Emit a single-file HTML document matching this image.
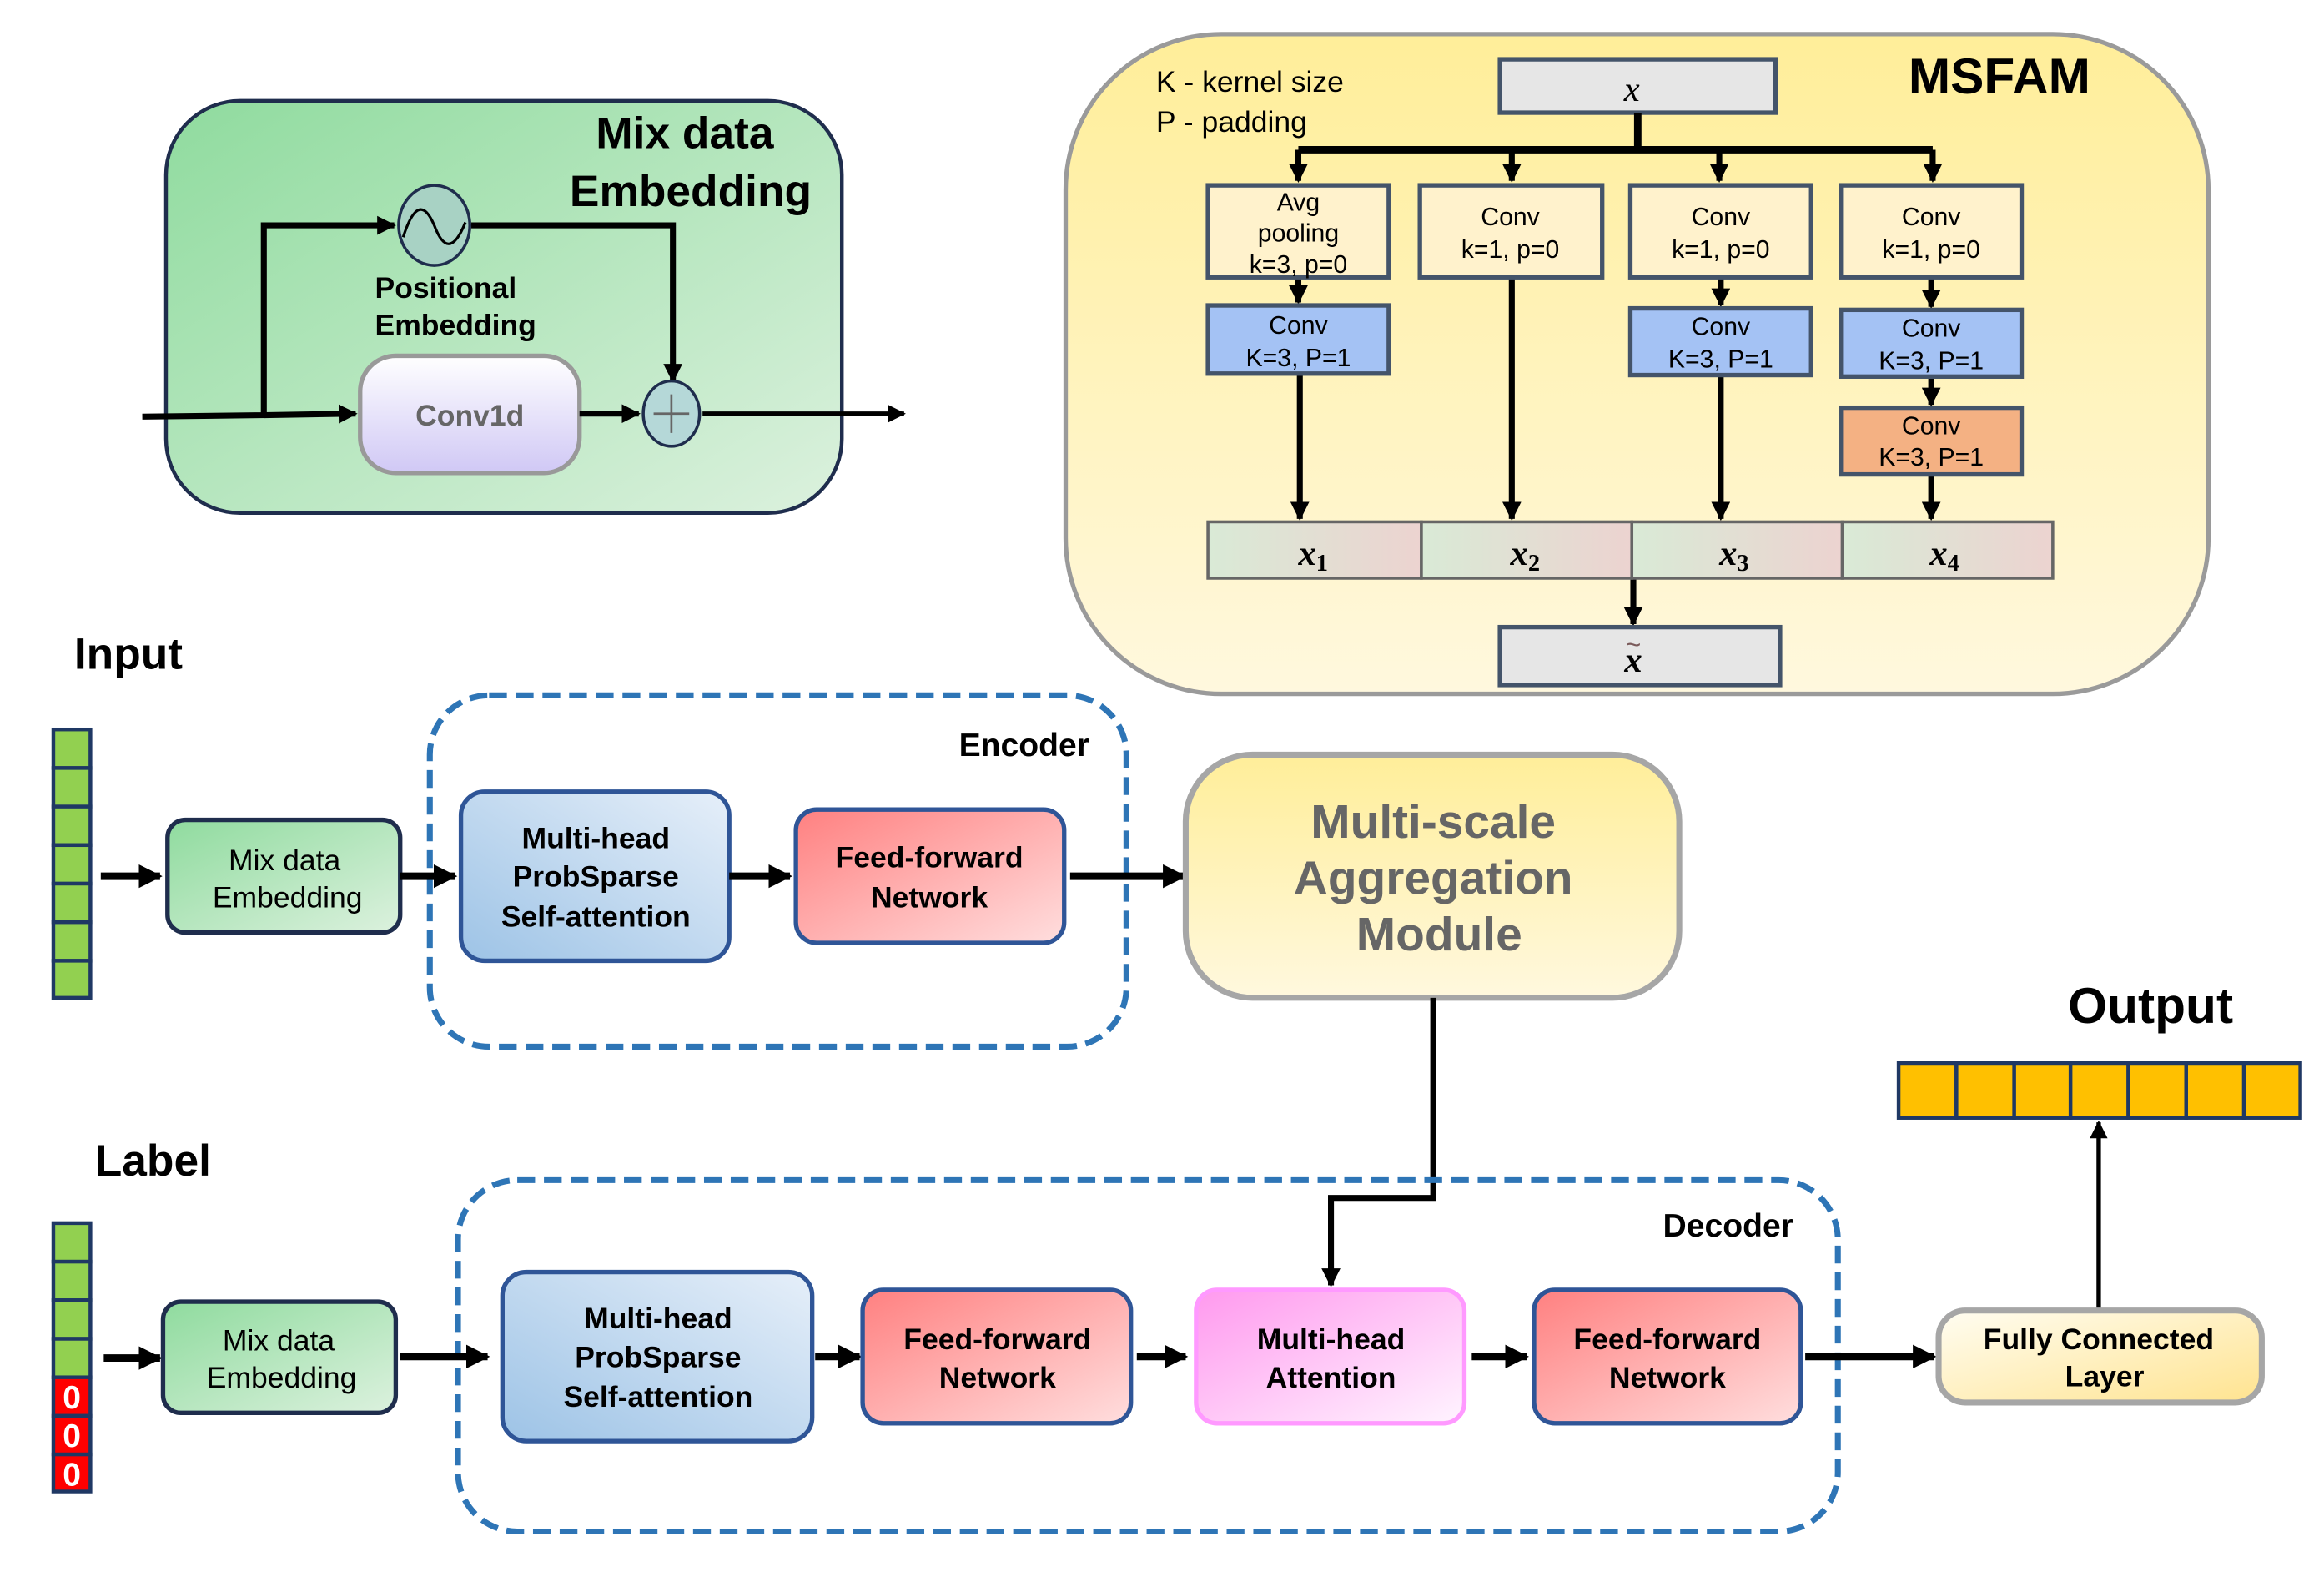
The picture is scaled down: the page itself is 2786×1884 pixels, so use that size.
<!DOCTYPE html>
<html><head><meta charset="utf-8"><style>
html,body{margin:0;padding:0;background:#fff}
svg{display:block}
text{font-family:"Liberation Sans",Arial,sans-serif}
.b{font-weight:bold}
.m{font-family:"Liberation Serif",serif;font-style:italic;font-size:24px}
</style></head><body>
<svg width="2786" height="1884" viewBox="0 0 1568 1060.3" preserveAspectRatio="none" xmlns="http://www.w3.org/2000/svg">
<defs>
<marker id="a" viewBox="0 0 10 10" refX="9" refY="5" markerWidth="3.2" markerHeight="3.2" orient="auto"><path d="M0,0L10,5L0,10z" fill="#000"/></marker>
<marker id="s" viewBox="0 0 10 10" refX="9" refY="5" markerWidth="4" markerHeight="4" orient="auto"><path d="M0,0L10,5L0,10z" fill="#000"/></marker>
<linearGradient id="gG" x1="0" y1="0" x2="1" y2="1"><stop offset="0" stop-color="#8fdb9e"/><stop offset="1" stop-color="#dcf1de"/></linearGradient>
<linearGradient id="gP" x1="0" y1="0" x2="0" y2="1"><stop offset="0" stop-color="#fff"/><stop offset="1" stop-color="#d0c8f5"/></linearGradient>
<linearGradient id="gY" x1="0" y1="0" x2="0" y2="1"><stop offset="0" stop-color="#ffee99"/><stop offset="1" stop-color="#fff8de"/></linearGradient>
<linearGradient id="gX" x1="0" y1="0" x2="1" y2="0"><stop offset="0" stop-color="#d9ead6"/><stop offset="1" stop-color="#ecd3d0"/></linearGradient>
<linearGradient id="gB" x1="0" y1="1" x2="1" y2="0"><stop offset="0" stop-color="#9dc3e6"/><stop offset="1" stop-color="#e6eff9"/></linearGradient>
<linearGradient id="gR" x1="0" y1="0" x2="1" y2="1"><stop offset="0" stop-color="#ff8080"/><stop offset="1" stop-color="#ffdede"/></linearGradient>
<linearGradient id="gM" x1="0" y1="0" x2="1" y2="1"><stop offset="0" stop-color="#ff99ee"/><stop offset="1" stop-color="#fff4ff"/></linearGradient>
<linearGradient id="gF" x1="0" y1="0" x2="1" y2="1"><stop offset="0" stop-color="#fffdf2"/><stop offset="1" stop-color="#ffe38f"/></linearGradient>
</defs>

<!-- Mix data Embedding panel -->
<rect x="112" y="68" width="456" height="278" rx="50" fill="url(#gG)" stroke="#1f2d4d" stroke-width="2.5"/>
<text x="462" y="100" class="b" font-size="30" text-anchor="middle">Mix data</text>
<text x="466" y="139" class="b" font-size="30" text-anchor="middle">Embedding</text>
<path d="M96,281L178,280L178,152L266,152" fill="none" stroke="#000" stroke-width="4" marker-end="url(#a)"/>
<path d="M178,280L240,279" fill="none" stroke="#000" stroke-width="4" marker-end="url(#a)"/>
<ellipse cx="293" cy="152" rx="24" ry="27" fill="#a8d2c4" stroke="#1f2d4d" stroke-width="2"/>
<path d="M272,160 C280,135 287,138 293,152 C299,168 306,170 314,150" fill="none" stroke="#000" stroke-width="1.8"/>
<path d="M318,152L454,152L454,257" fill="none" stroke="#000" stroke-width="4" marker-end="url(#a)"/>
<text x="253" y="201" class="b" font-size="20">Positional</text>
<text x="253" y="226" class="b" font-size="20">Embedding</text>
<rect x="243" y="240" width="148" height="79" rx="24" fill="url(#gP)" stroke="#999" stroke-width="3"/>
<text x="317" y="287" class="b" font-size="20" fill="#666" text-anchor="middle">Conv1d</text>
<path d="M391,279L431,279" stroke="#000" stroke-width="4" marker-end="url(#a)"/>
<ellipse cx="453" cy="279" rx="19" ry="22" fill="#b5d8d8" stroke="#1f2d4d" stroke-width="2"/>
<path d="M441,279H465M453,266V292" stroke="#666" stroke-width="1.5"/>
<path d="M474,279L610,279" stroke="#000" stroke-width="3" marker-end="url(#s)"/>

<!-- MSFAM -->
<rect x="719" y="23" width="771" height="445" rx="105" fill="url(#gY)" stroke="#9a9a9a" stroke-width="3"/>
<text x="780" y="62" font-size="20">K - kernel size</text>
<text x="780" y="89" font-size="20">P - padding</text>
<text x="1349" y="63" class="b" font-size="34" text-anchor="middle">MSFAM</text>
<rect x="1012" y="40" width="186" height="36" fill="#e6e6e6" stroke="#44546a" stroke-width="3"/>
<text x="1101" y="68" class="m" text-anchor="middle">x</text>
<path d="M1105,76V101M876,101H1304" stroke="#000" stroke-width="5" fill="none"/>
<g stroke="#000" stroke-width="4" fill="none">
<path d="M876,101V122" marker-end="url(#a)"/><path d="M1020,101V122" marker-end="url(#a)"/>
<path d="M1160,101V122" marker-end="url(#a)"/><path d="M1304,101V122" marker-end="url(#a)"/>
<path d="M876,187V204" marker-end="url(#a)"/><path d="M1161,187V206" marker-end="url(#a)"/>
<path d="M1303,187V207" marker-end="url(#a)"/><path d="M1303,254V273" marker-end="url(#a)"/>
<path d="M877,252V350" marker-end="url(#a)"/><path d="M1020,187V350" marker-end="url(#a)"/>
<path d="M1161,253V350" marker-end="url(#a)"/><path d="M1303,320V350" marker-end="url(#a)"/>
<path d="M1102,390V421" marker-end="url(#a)"/>
</g>
<g stroke="#44546a" stroke-width="3" fill="#fff2cc">
<rect x="815" y="125" width="122" height="62"/><rect x="958" y="125" width="123" height="62"/>
<rect x="1100" y="125" width="122" height="62"/><rect x="1242" y="125" width="122" height="62"/>
<rect x="815" y="206" width="122" height="46" fill="#a4c2f4"/><rect x="1100" y="208" width="122" height="45" fill="#a4c2f4"/>
<rect x="1242" y="209" width="122" height="45" fill="#a4c2f4"/><rect x="1242" y="275" width="122" height="45" fill="#f4b183"/>
</g>
<g font-size="17" text-anchor="middle">
<text x="876" y="142">Avg</text><text x="876" y="163">pooling</text><text x="876" y="184">k=3, p=0</text>
<text x="1019" y="152">Conv</text><text x="1019" y="174">k=1, p=0</text>
<text x="1161" y="152">Conv</text><text x="1161" y="174">k=1, p=0</text>
<text x="1303" y="152">Conv</text><text x="1303" y="174">k=1, p=0</text>
<text x="876" y="225">Conv</text><text x="876" y="247">K=3, P=1</text>
<text x="1161" y="226">Conv</text><text x="1161" y="248">K=3, P=1</text>
<text x="1303" y="227">Conv</text><text x="1303" y="249">K=3, P=1</text>
<text x="1303" y="293">Conv</text><text x="1303" y="314">K=3, P=1</text>
</g>
<g stroke="#666" stroke-width="2" fill="url(#gX)">
<rect x="815" y="352" width="144" height="38"/><rect x="959" y="352" width="142" height="38"/>
<rect x="1101" y="352" width="142" height="38"/><rect x="1243" y="352" width="142" height="38"/>
</g>
<text x="876" y="381" class="m" font-weight="bold">x<tspan font-size="16" font-style="normal" dy="4">1</tspan></text>
<text x="1019" y="381" class="m" font-weight="bold">x<tspan font-size="16" font-style="normal" dy="4">2</tspan></text>
<text x="1160" y="381" class="m" font-weight="bold">x<tspan font-size="16" font-style="normal" dy="4">3</tspan></text>
<text x="1302" y="381" class="m" font-weight="bold">x<tspan font-size="16" font-style="normal" dy="4">4</tspan></text>
<rect x="1012" y="423" width="189" height="39" fill="#e6e6e6" stroke="#44546a" stroke-width="3"/>
<text x="1102" y="453" class="m" text-anchor="middle" font-weight="bold">x</text>
<text x="1102" y="441" font-size="18" text-anchor="middle" fill="#7a5a5a">~</text>

<!-- Input -->
<text x="50" y="451" class="b" font-size="30">Input</text>
<g stroke="#1f3864" stroke-width="2.5" fill="#92d050">
<rect x="36" y="492" width="25" height="26"/><rect x="36" y="518" width="25" height="26"/><rect x="36" y="544" width="25" height="26"/>
<rect x="36" y="570" width="25" height="26"/><rect x="36" y="596" width="25" height="26"/><rect x="36" y="622" width="25" height="26"/><rect x="36" y="648" width="25" height="25"/>
</g>
<path d="M68,591H108" stroke="#000" stroke-width="5" marker-end="url(#a)"/>
<rect x="113" y="553" width="157" height="76" rx="12" fill="url(#gG)" stroke="#1f2d4d" stroke-width="3"/>
<text x="192" y="587" font-size="20" text-anchor="middle">Mix data</text>
<text x="194" y="612" font-size="20" text-anchor="middle">Embedding</text>
<rect x="290" y="469" width="470" height="237" rx="40" fill="none" stroke="#2e75b6" stroke-width="4" stroke-dasharray="12 6"/>
<text x="735" y="510" class="b" font-size="22" text-anchor="end">Encoder</text>
<path d="M270,591H307" stroke="#000" stroke-width="5" marker-end="url(#a)"/>
<rect x="311" y="534" width="181" height="114" rx="16" fill="url(#gB)" stroke="#2f5597" stroke-width="3"/>
<g font-size="20" text-anchor="middle" font-weight="bold">
<text x="402" y="572">Multi-head</text><text x="402" y="598">ProbSparse</text><text x="402" y="625">Self-attention</text>
</g>
<path d="M492,591H533" stroke="#000" stroke-width="5" marker-end="url(#a)"/>
<rect x="537" y="546" width="181" height="90" rx="14" fill="url(#gR)" stroke="#2f5597" stroke-width="3"/>
<g font-size="20" text-anchor="middle" font-weight="bold">
<text x="627" y="585">Feed-forward</text><text x="627" y="612">Network</text>
</g>
<path d="M722,591H799" stroke="#000" stroke-width="5" marker-end="url(#a)"/>
<rect x="800" y="509" width="333" height="164" rx="45" fill="url(#gY)" stroke="#a6a6a6" stroke-width="4"/>
<g font-size="32" text-anchor="middle" font-weight="bold" fill="#666">
<text x="967" y="565">Multi-scale</text><text x="967" y="603">Aggregation</text><text x="971" y="641">Module</text>
</g>
<path d="M967,673V808H898V867" fill="none" stroke="#000" stroke-width="4" marker-end="url(#a)"/>

<!-- Output -->
<text x="1451" y="690" class="b" font-size="34" text-anchor="middle">Output</text>
<g stroke="#1f3864" stroke-width="2.5" fill="#ffc000">
<rect x="1281" y="717" width="39" height="37"/><rect x="1320" y="717" width="39" height="37"/><rect x="1359" y="717" width="38" height="37"/>
<rect x="1397" y="717" width="39" height="37"/><rect x="1436" y="717" width="39" height="37"/><rect x="1475" y="717" width="39" height="37"/><rect x="1514" y="717" width="38" height="37"/>
</g>
<path d="M1416,883V757" stroke="#000" stroke-width="3" marker-end="url(#s)"/>

<!-- Label -->
<text x="64" y="793" class="b" font-size="30">Label</text>
<g stroke="#1f3864" stroke-width="2.5" fill="#92d050">
<rect x="36" y="825" width="25" height="26"/><rect x="36" y="851" width="25" height="26"/><rect x="36" y="877" width="25" height="26"/><rect x="36" y="903" width="25" height="26"/>
<rect x="36" y="929" width="25" height="26" fill="#ff0000"/><rect x="36" y="955" width="25" height="26" fill="#ff0000"/><rect x="36" y="981" width="25" height="25" fill="#ff0000"/>
</g>
<g fill="#fff" font-size="22" text-anchor="middle" font-weight="bold">
<text x="48.5" y="950">0</text><text x="48.5" y="976">0</text><text x="48.5" y="1002">0</text>
</g>
<path d="M70,916H108" stroke="#000" stroke-width="5" marker-end="url(#a)"/>
<rect x="110" y="878" width="157" height="75" rx="12" fill="url(#gG)" stroke="#1f2d4d" stroke-width="3"/>
<text x="188" y="911" font-size="20" text-anchor="middle">Mix data</text>
<text x="190" y="936" font-size="20" text-anchor="middle">Embedding</text>
<rect x="309" y="796" width="931" height="237" rx="40" fill="none" stroke="#2e75b6" stroke-width="4" stroke-dasharray="12 6"/>
<text x="1210" y="834" class="b" font-size="22" text-anchor="end">Decoder</text>
<path d="M270,915H329" stroke="#000" stroke-width="5" marker-end="url(#a)"/>
<rect x="339" y="858" width="209" height="114" rx="16" fill="url(#gB)" stroke="#2f5597" stroke-width="3"/>
<g font-size="20" text-anchor="middle" font-weight="bold">
<text x="444" y="896">Multi-head</text><text x="444" y="922">ProbSparse</text><text x="444" y="949">Self-attention</text>
</g>
<path d="M550,915H580" stroke="#000" stroke-width="5" marker-end="url(#a)"/>
<rect x="582" y="870" width="181" height="90" rx="14" fill="url(#gR)" stroke="#2f5597" stroke-width="3"/>
<g font-size="20" text-anchor="middle" font-weight="bold">
<text x="673" y="910">Feed-forward</text><text x="673" y="936">Network</text>
</g>
<path d="M767,915H800" stroke="#000" stroke-width="5" marker-end="url(#a)"/>
<rect x="807" y="870" width="181" height="90" rx="14" fill="url(#gM)" stroke="#ff99ff" stroke-width="3"/>
<g font-size="20" text-anchor="middle" font-weight="bold">
<text x="898" y="910">Multi-head</text><text x="898" y="936">Attention</text>
</g>
<path d="M993,915H1030" stroke="#000" stroke-width="5" marker-end="url(#a)"/>
<rect x="1035" y="870" width="180" height="90" rx="14" fill="url(#gR)" stroke="#2f5597" stroke-width="3"/>
<g font-size="20" text-anchor="middle" font-weight="bold">
<text x="1125" y="910">Feed-forward</text><text x="1125" y="936">Network</text>
</g>
<path d="M1218,915H1305" stroke="#000" stroke-width="5" marker-end="url(#a)"/>
<rect x="1308" y="884" width="218" height="62" rx="18" fill="url(#gF)" stroke="#a6a6a6" stroke-width="4"/>
<g font-size="20" text-anchor="middle" font-weight="bold">
<text x="1416" y="910">Fully Connected</text><text x="1420" y="935">Layer</text>
</g>
</svg>
</body></html>
